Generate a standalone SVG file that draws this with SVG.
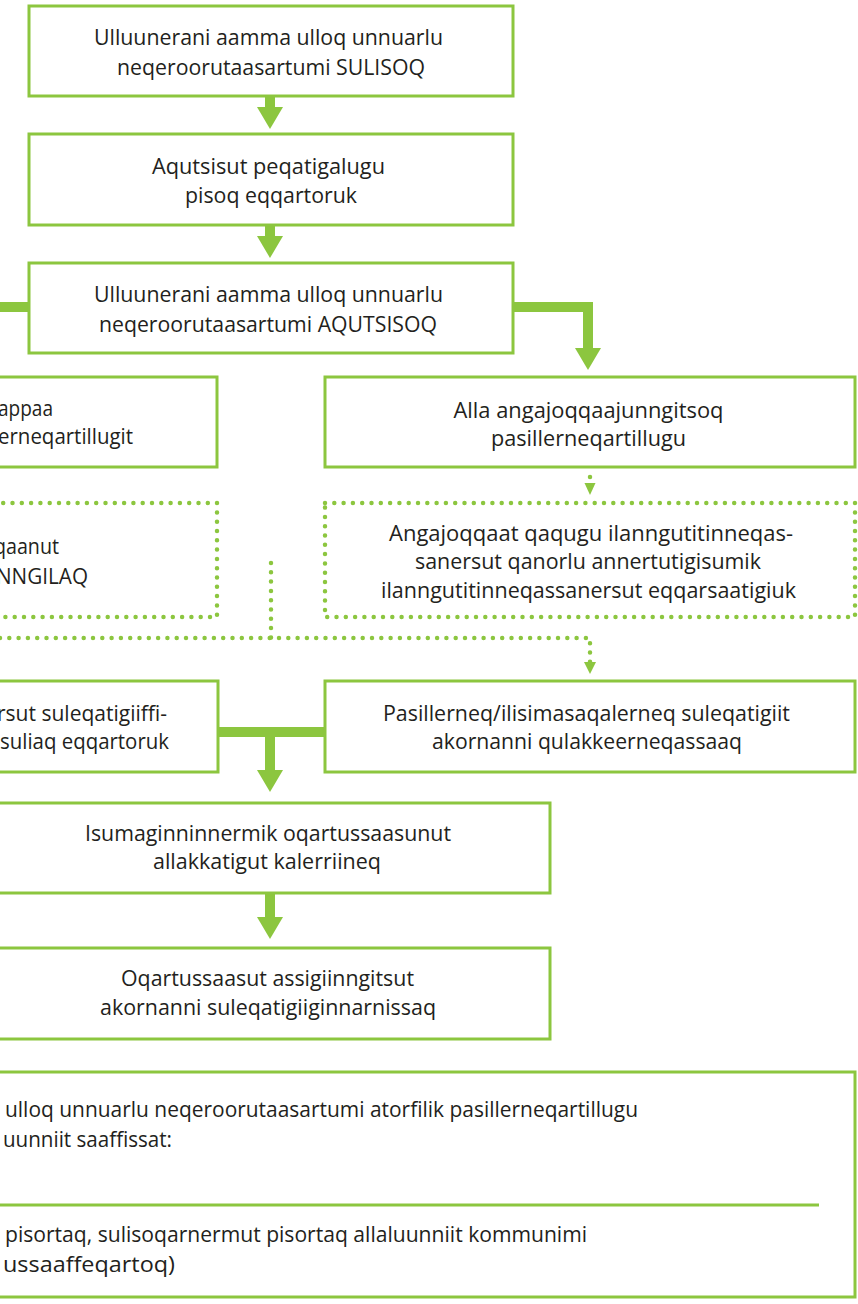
<svg xmlns="http://www.w3.org/2000/svg" width="858" height="1304" viewBox="0 0 858 1304">
<style>
.box{fill:#fff;stroke:#8cc63f;stroke-width:3}
.dbox{fill:#fff;stroke:#8cc63f;stroke-width:4.5;stroke-dasharray:0 9.3;stroke-linecap:round;stroke-linejoin:round}
.thick{fill:none;stroke:#8cc63f;stroke-width:10}
.dot{fill:none;stroke:#8cc63f;stroke-width:4.5;stroke-dasharray:0 9.3;stroke-linecap:round}
.rule{fill:none;stroke:#8cc63f;stroke-width:3}
.head{fill:#8cc63f}
text{font-family:"Open Sans","Noto Sans","Liberation Sans",sans-serif;font-size:22px;fill:#231f20}
.m{text-anchor:middle}
.e{text-anchor:end}
.s{text-anchor:start}
</style>
<defs>
<marker id="ah" viewBox="0 0 22 26" refX="0" refY="13" markerWidth="22" markerHeight="26" markerUnits="userSpaceOnUse" orient="auto">
<path d="M0 0L22 13L0 26Z" fill="#8cc63f"/>
</marker>
</defs>
<rect width="858" height="1304" fill="#fff"/>
<g id="connectors">
<path class="thick" d="M270 96V107" marker-end="url(#ah)"/>
<path class="thick" d="M270 225V236" marker-end="url(#ah)"/>
<path class="thick" d="M29 307H0"/>
<path class="thick" d="M513 307H588V348" marker-end="url(#ah)"/>
<path class="dot" d="M590 477V480"/>
<path class="head" d="M584.5 483L595.5 483L590 495Z"/>
<path class="thick" d="M218 732H325"/>
<path class="thick" d="M270 732V770" marker-end="url(#ah)"/>
<path class="thick" d="M270 893V917" marker-end="url(#ah)"/>
<path class="dot" d="M271 563V638"/>
<path class="dot" d="M0 638H590V662"/>
<path class="head" d="M584 662L596 662L590 674Z"/>
</g>
<g id="n1">
<rect class="box" x="29" y="6" width="484" height="90"/>
<text class="m" x="268.5" y="45" textLength="349" lengthAdjust="spacingAndGlyphs">Ulluunerani aamma ulloq unnuarlu</text>
<text class="m" x="271" y="75" textLength="308" lengthAdjust="spacingAndGlyphs">neqeroorutaasartumi SULISOQ</text>
</g>
<g id="n2">
<rect class="box" x="29" y="134" width="484" height="91"/>
<text class="m" x="268.5" y="174" textLength="233" lengthAdjust="spacingAndGlyphs">Aqutsisut peqatigalugu</text>
<text class="m" x="271" y="203" textLength="172" lengthAdjust="spacingAndGlyphs">pisoq eqqartoruk</text>
</g>
<g id="n3">
<rect class="box" x="29" y="263" width="484" height="90"/>
<text class="m" x="268.5" y="302" textLength="349" lengthAdjust="spacingAndGlyphs">Ulluunerani aamma ulloq unnuarlu</text>
<text class="m" x="268" y="332" textLength="338" lengthAdjust="spacingAndGlyphs">neqeroorutaasartumi AQUTSISOQ</text>
</g>
<g id="n4">
<rect class="box" x="-313" y="377" width="530" height="90"/>
<text class="s" x="-2" y="416" textLength="55" lengthAdjust="spacingAndGlyphs">appaa</text>
<text class="s" x="-2" y="444" textLength="135" lengthAdjust="spacingAndGlyphs">erneqartillugit</text>
</g>
<g id="n5">
<rect class="box" x="325" y="377" width="530" height="90"/>
<text class="m" x="588.5" y="418" textLength="270" lengthAdjust="spacingAndGlyphs">Alla angajoqqaajunngitsoq</text>
<text class="m" x="588.5" y="446" textLength="195" lengthAdjust="spacingAndGlyphs">pasillerneqartillugu</text>
</g>
<g id="n6">
<rect class="dbox" x="-313" y="503" width="530" height="114"/>
<text class="s" x="-6" y="554" textLength="65" lengthAdjust="spacingAndGlyphs">qaanut</text>
<text class="s" x="-4" y="584" textLength="92" lengthAdjust="spacingAndGlyphs">NNGILAQ</text>
</g>
<g id="n7">
<rect class="dbox" x="325" y="503" width="530" height="114"/>
<text class="m" x="591" y="541" textLength="404" lengthAdjust="spacingAndGlyphs">Angajoqqaat qaqugu ilanngutitinneqas-</text>
<text class="m" x="588" y="569" textLength="346" lengthAdjust="spacingAndGlyphs">sanersut qanorlu annertutigisumik</text>
<text class="m" x="588.5" y="598" textLength="415" lengthAdjust="spacingAndGlyphs">ilanngutitinneqassanersut eqqarsaatigiuk</text>
</g>
<g id="n8">
<rect class="box" x="-313" y="681" width="531" height="91"/>
<text class="s" x="-3" y="721" textLength="170" lengthAdjust="spacingAndGlyphs">rsut suleqatigiiffi-</text>
<text class="s" x="0" y="749" textLength="169" lengthAdjust="spacingAndGlyphs">suliaq eqqartoruk</text>
</g>
<g id="n9">
<rect class="box" x="325" y="681" width="530" height="91"/>
<text class="m" x="586.5" y="721" textLength="407" lengthAdjust="spacingAndGlyphs">Pasillerneq/ilisimasaqalerneq suleqatigiit</text>
<text class="m" x="587" y="749" textLength="310" lengthAdjust="spacingAndGlyphs">akornanni qulakkeerneqassaaq</text>
</g>
<g id="n10">
<rect class="box" x="-10" y="803" width="560" height="90"/>
<text class="m" x="268" y="841" textLength="366" lengthAdjust="spacingAndGlyphs">Isumaginninnermik oqartussaasunut</text>
<text class="m" x="267" y="869" textLength="228" lengthAdjust="spacingAndGlyphs">allakkatigut kalerriineq</text>
</g>
<g id="n11">
<rect class="box" x="-10" y="948" width="560" height="91"/>
<text class="m" x="267.5" y="986" textLength="293" lengthAdjust="spacingAndGlyphs">Oqartussaasut assigiinngitsut</text>
<text class="m" x="268" y="1015" textLength="336" lengthAdjust="spacingAndGlyphs">akornanni suleqatigiiginnarnissaq</text>
</g>
<g id="n12">
<rect class="box" x="-10" y="1072" width="865" height="225"/>
<text class="s" x="5" y="1117" textLength="633" lengthAdjust="spacingAndGlyphs">ulloq unnuarlu neqeroorutaasartumi atorfilik pasillerneqartillugu</text>
<text class="s" x="3" y="1147" textLength="169" lengthAdjust="spacingAndGlyphs">uunniit saaffissat:</text>
<path class="rule" d="M0 1205H819"/>
<text class="s" x="5" y="1242" textLength="582" lengthAdjust="spacingAndGlyphs">pisortaq, sulisoqarnermut pisortaq allaluunniit kommunimi</text>
<text class="s" x="3" y="1272" textLength="172" lengthAdjust="spacingAndGlyphs">ussaaffeqartoq)</text>
</g>
</svg>
